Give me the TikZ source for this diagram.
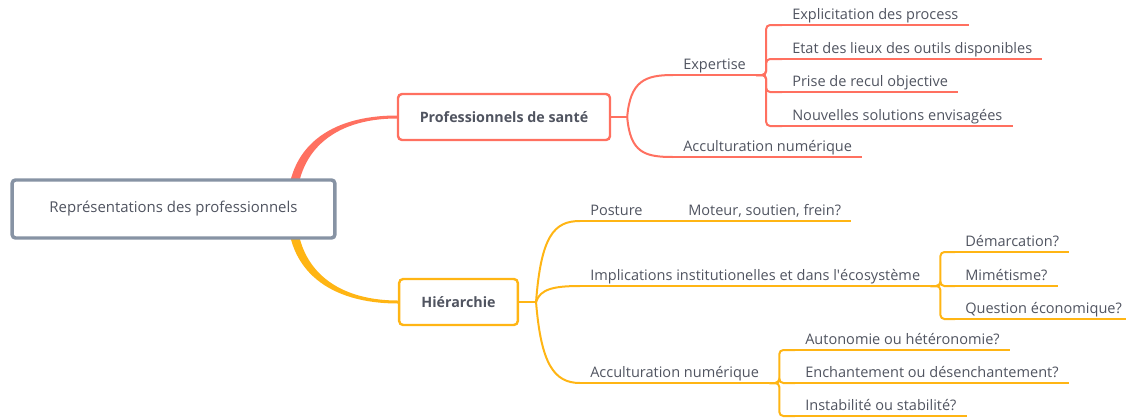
\documentclass[tikz,border=0pt]{standalone}
\usepackage{fontspec}
\setmainfont{Open Sans}
\usetikzlibrary{calc,backgrounds}
\definecolor{rootc}{RGB}{135,147,164}
\definecolor{profc}{RGB}{255,112,96}
\definecolor{hierc}{RGB}{255,181,20}
\definecolor{txtc}{RGB}{80,84,96}
\tikzset{
  rootbox/.style={draw=rootc,line width=2.6pt,rounded corners=2.5pt,fill=white,
    minimum width=242pt,minimum height=43.5pt,font=\fontsize{11.2pt}{13pt}\selectfont},
  mainbox/.style={draw=#1,line width=1.8pt,rounded corners=3pt,fill=white,
    minimum height=34.5pt,font=\fontsize{10.7pt}{12pt}\selectfont\bfseries},
  leaf/.style={anchor=south west,inner xsep=7.5pt,inner ysep=3.75pt,text depth=0pt,
    font=\fontsize{10.9pt}{12pt}\selectfont},
  link/.style={line width=1.5pt,rounded corners=3pt}
}

\begin{document}
\begin{tikzpicture}[x=0.75pt,y=-0.75pt,text=txtc]
  \useasboundingbox (0,0) rectangle (1126,418);
  \node[rootbox] (root) at (173.5,209) {Représentations des professionnels};
  \node[mainbox=profc,minimum width=159pt] (prof) at (504,117) {Professionnels de santé};
  \node[mainbox=hierc,minimum width=89pt] (hier) at (458.5,302) {Hiérarchie};
  \begin{scope}[on background layer]
    \fill[profc] ($(root.east)+(-49,0)$) .. controls (286,147) and (330,115.5) .. ($(prof.west)+(0,-1.5)$)
      -- ($(prof.west)+(0,1.5)$) .. controls (333,118.5) and (295,152) .. ($(root.east)+(-40,0)$) -- cycle;
    \fill[hierc] ($(root.east)+(-49,0)$) .. controls (286,271) and (330,303.5) .. ($(hier.west)+(0,1.5)$)
      -- ($(hier.west)+(0,-1.5)$) .. controls (333,300.5) and (295,266) .. ($(root.east)+(-40,0)$) -- cycle;
  \end{scope}

  % professionnels de sante
  \node[leaf] (expertise) at (673,75) {Expertise};
  \node[leaf] (acc1) at (673,157) {Acculturation numérique};
  \node[leaf] (expl) at (782,25) {Explicitation des process};
  \node[leaf] (etat) at (782,59) {Etat des lieux des outils disponibles};
  \node[leaf] (recul) at (782,92) {Prise de recul objective};
  \node[leaf] (nouv) at (782,126) {Nouvelles solutions envisagées};
  \begin{scope}[profc,line width=1.5pt]
    \draw (prof.east) -- ++(16,0) coordinate (pj);
    \draw (pj) .. controls +(3,-36) and +(-28,0) .. (expertise.south west);
    \draw (pj) .. controls +(3,36) and +(-28,0) .. (acc1.south west);
    \foreach \n in {expertise,acc1,expl,etat,recul,nouv}
      \draw (\n.south west) -- (\n.south east);
    \foreach \n in {expl,etat,recul,nouv}
      \draw[link] (expertise.south east) -- ++(10,0) |- (\n.south west);
  \end{scope}

  % hierarchie
  \node[leaf] (posture) at (580,221) {Posture};
  \node[leaf] (moteur) at (678,221) {Moteur, soutien, frein?};
  \node[leaf] (impl) at (580,286) {Implications institutionelles et dans l\textquotesingle écosystème};
  \node[leaf] (acc2) at (580,383) {Acculturation numérique};
  \node[leaf] (demarc) at (955,252) {Démarcation?};
  \node[leaf] (mimet) at (955,286) {Mimétisme?};
  \node[leaf] (quest) at (955,319) {Question économique?};
  \node[leaf] (auton) at (795,350) {Autonomie ou hétéronomie?};
  \node[leaf] (enchant) at (795,383) {Enchantement ou désenchantement?};
  \node[leaf] (instab) at (795,416) {Instabilité ou stabilité?};
  \begin{scope}[hierc,line width=1.5pt]
    \draw (hier.east) -- ++(17,0) coordinate (hj);
    \draw (hj) .. controls +(5,-66) and +(-26,0) .. (posture.south west);
    \draw (hj) .. controls +(4,-13) and +(-26,0) .. (impl.south west);
    \draw (hj) .. controls +(5,62) and +(-26,0) .. (acc2.south west);
    \draw (posture.south east) -- (moteur.south west);
    \foreach \n in {posture,moteur,impl,acc2,demarc,mimet,quest,auton,enchant,instab}
      \draw (\n.south west) -- (\n.south east);
    \foreach \n in {demarc,mimet,quest}
      \draw[link] (impl.south east) -- ++(10,0) |- (\n.south west);
    \foreach \n in {auton,enchant,instab}
      \draw[link] (acc2.south east) -- ++(10,0) |- (\n.south west);
  \end{scope}
\end{tikzpicture}
\end{document}
